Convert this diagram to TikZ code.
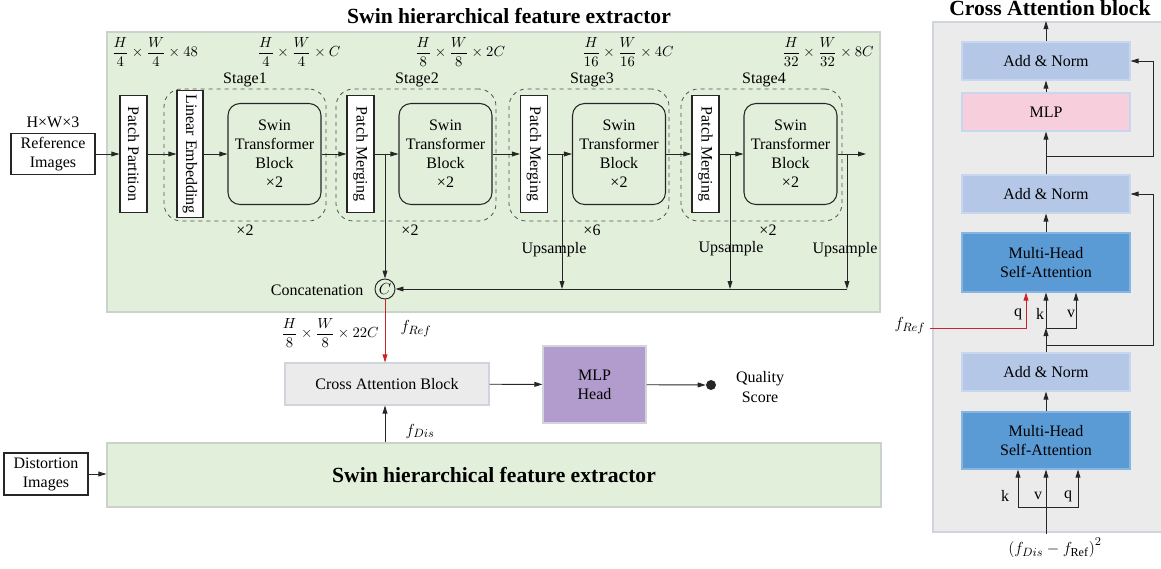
\documentclass[tikz,border=0pt]{standalone}
\usepackage{amsmath}
\usepackage{fontspec}
\setmainfont{Liberation Serif}
\usetikzlibrary{arrows.meta,fit,calc}
\definecolor{greenbg}{HTML}{E2EFDA}
\definecolor{greenbd}{HTML}{C9D3CC}
\definecolor{graybg}{HTML}{EBEBEB}
\definecolor{graybd}{HTML}{D0D5DD}
\definecolor{anfill}{HTML}{B4C7E7}
\definecolor{anbd}{HTML}{C8D6EE}
\definecolor{mlpfill}{HTML}{F7CFDC}
\definecolor{mhfill}{HTML}{5B9BD5}
\definecolor{mhbd}{HTML}{86B5E2}
\definecolor{headfill}{HTML}{B19CCD}
\definecolor{redline}{HTML}{D0202A}
\definecolor{linec}{HTML}{262626}
\newcommand{\dimlbl}[3]{$\dfrac{H}{#1}\times\dfrac{W}{#2}\times #3$}
\begin{document}
\begin{tikzpicture}[x=0.75pt,y=-0.75pt,
  font=\fontsize{12}{14.3}\selectfont,
  ln/.style={draw=linec, line width=0.7pt},
  arr/.style={ln, -{Triangle[length=6pt,width=3.6pt]}},
  redarr/.style={draw=redline, line width=0.7pt, -{Triangle[length=6pt,width=3.6pt]}},
  box/.style={draw=linec, line width=0.8pt, fill=white, inner sep=1pt, align=center},
  vbox/.style={box, rotate=-90, minimum height=20.25pt},
  swin/.style={draw=linec, line width=0.8pt, rounded corners=9pt, align=center, minimum width=69.75pt, minimum height=75.75pt, inner sep=1pt},
  stagebox/.style={draw=linec!80, dashed, line width=0.6pt, rounded corners=13pt, inner sep=0pt},
  dimtxt/.style={font=\fontsize{10.5}{12}\selectfont, inner sep=0pt},
  mathlbl/.style={font=\fontsize{13}{15}\selectfont},
  panel/.style={fill=greenbg, draw=greenbd, line width=0.8pt, inner sep=0pt},
  rbox/.style={align=center, minimum width=126pt, minimum height=28.5pt, line width=0.8pt, inner sep=1pt},
  bigbold/.style={font=\bfseries\fontsize{16.2}{18}\selectfont}
]
\useasboundingbox (0,0) rectangle (1161,568);

% ---------- top panel ----------
\node[panel, fit={(107,32)(880,312)}] (toppanel) {};
\node[bigbold] (title) at (509,16) {Swin hierarchical feature extractor};

\node[box, minimum width=63pt, minimum height=30.75pt] (ref) at (53,154) {Reference\\Images};
\node (refdim) at (53,122) {H×W×3};

\node[vbox, minimum width=87.75pt] (pp) at (133.5,154) {Patch Partition};

% stage boxes
\node[stagebox, fit={(164,89)(326,221)}] (s1) {};
\node[stagebox, fit={(336,89)(496,221)}] (s2) {};
\node[stagebox, fit={(509,89)(669,221)}] (s3) {};
\node[stagebox, fit={(681,89)(842,221)}] (s4) {};
\node (s1l) at (245,80) {Stage1};
\node (s2l) at (417,80) {Stage2};
\node (s3l) at (592,80) {Stage3};
\node (s4l) at (764,80) {Stage4};
\node (s1x) at (245,230) {×2};
\node (s2x) at (410,230) {×2};
\node (s3x) at (592,230) {×6};
\node (s4x) at (768,230) {×2};

\node[vbox, minimum width=95.25pt, minimum height=19.5pt] (le) at (190,154) {Linear Embedding};
\node[swin] (sb1) at (274.5,154) {Swin\\Transformer\\Block\\×2};
\node[vbox, minimum width=87.75pt] (pm2) at (360.5,154) {Patch Merging};
\node[swin] (sb2) at (445.5,154) {Swin\\Transformer\\Block\\×2};
\node[vbox, minimum width=87.75pt] (pm3) at (534,154) {Patch Merging};
\node[swin] (sb3) at (619,154) {Swin\\Transformer\\Block\\×2};
\node[vbox, minimum width=87.75pt] (pm4) at (705.5,154) {Patch Merging};
\node[swin] (sb4) at (790.5,154) {Swin\\Transformer\\Block\\×2};

% dims
\node[dimtxt] (d1) at (155,52) {\dimlbl{4}{4}{48}};
\node[dimtxt] (d2) at (299,52) {\dimlbl{4}{4}{C}};
\node[dimtxt] (d3) at (460,52) {\dimlbl{8}{8}{2C}};
\node[dimtxt] (d4) at (628,52) {\dimlbl{16}{16}{4C}};
\node[dimtxt] (d5) at (828,52) {\dimlbl{32}{32}{8C}};

% main chain
\coordinate (out4) at (866,154);
\draw[arr] (ref) -- (pp);
\draw[arr] (pp) -- (le);
\draw[arr] (le) -- (sb1);
\draw[arr] (sb1) -- (pm2);
\draw[arr] (pm2) -- (sb2);
\draw[arr] (sb2) -- (pm3);
\draw[arr] (pm3) -- (sb3);
\draw[arr] (sb3) -- (pm4);
\draw[arr] (pm4) -- (sb4);
\draw[arr] (sb4) -- (out4);

% concatenation
\node[draw=linec, line width=0.7pt, circle, minimum size=15pt, inner sep=0pt] (cat) at (385,289) {$C$};
\node[anchor=east] (catl) at (368,290) {Concatenation};
\coordinate (b2) at (385,154);
\coordinate (b3) at (562,154);
\coordinate (b4) at (730,154);
\coordinate (b5) at (847,154);
\coordinate (h3) at (562,289);
\coordinate (h4) at (730,289);
\coordinate (h5) at (847,289);
\draw[arr] (b2) -- (cat);
\draw[arr] (b3) -- (h3);
\draw[arr] (b4) -- (h4);
\draw[arr] (b5) -- (h5);
\draw[arr] (h5) -- (cat);
\node (up3) at (554,250) {Upsample};
\node (up4) at (731,249) {Upsample};
\node (up5) at (845,250) {Upsample};

% ---------- middle ----------
\node[box, draw=graybd, fill=graybg, minimum width=153pt, minimum height=31.5pt] (cab) at (387,384) {Cross Attention Block};
\node[box, draw=graybd, fill=headfill, minimum width=77.25pt, minimum height=57.75pt] (head) at (594.5,384.5) {MLP\\Head};
\node[circle, fill=linec, minimum size=7.5pt, inner sep=0pt] (dot) at (711,385) {};
\node[align=center] (qs) at (760,387) {Quality\\Score};
\draw[redarr] (cat) -- (cat |- cab.north);
\node[dimtxt] (d6) at (330,333) {\dimlbl{8}{8}{22C}};
\node[mathlbl] (fref) at (416,329) {$f_{Ref}$};
\draw[arr] (cab) -- (head);
\draw[arr] (head) -- (dot);

% ---------- bottom ----------
\node[panel, fit={(107,443)(881,507)}] (botpanel) {};
\node[bigbold] (bottitle) at (494,475) {Swin hierarchical feature extractor};
\node[box, minimum width=63pt, minimum height=31.5pt] (dis) at (46,474) {Distortion\\Images};
\draw[arr] (dis) -- (dis -| botpanel.west);
\draw[arr] (cat |- botpanel.north) -- (cat |- cab.south);
\node[mathlbl] (fdis) at (420,431) {$f_{Dis}$};

% ---------- right panel ----------
\node[fill=graybg, draw=graybd, line width=0.8pt, inner sep=0pt, fit={(933,22)(1175,532)}] (rpanel) {};
\node[bigbold, anchor=base, inner sep=0pt] (rtitle) at (1050,15.5) {Cross Attention block};
\node[rbox, fill=anfill, draw=anbd] (an1) at (1046,61) {Add \& Norm};
\node[rbox, fill=mlpfill, draw=anbd] (mlp) at (1046,112) {MLP};
\node[rbox, fill=anfill, draw=anbd] (an2) at (1046,194) {Add \& Norm};
\node[rbox, fill=mhfill, draw=mhbd, minimum height=44.25pt] (mh1) at (1046,262.5) {Multi-Head\\Self-Attention};
\node[rbox, fill=anfill, draw=anbd] (an3) at (1046,372) {Add \& Norm};
\node[rbox, fill=mhfill, draw=mhbd, minimum height=42.75pt] (mh2) at (1046,440.5) {Multi-Head\\Self-Attention};

\coordinate (caout) at (1046,21);
\draw[arr] (an1) -- (caout);
\draw[arr] (mlp) -- (an1);
\draw[arr] (an2) -- (mlp);
\coordinate (r1) at (1046,156);
\coordinate (rr1) at (1153,156);
\draw[arr] (r1) -- (rr1) |- (an1.east);
\draw[arr] (mh1) -- (an2);

\coordinate (j1) at (1046,328);
\coordinate (v1) at (1076,328);
\draw[arr] (an3) -- (j1);
\draw[arr] (j1) -- (mh1.south);
\draw[arr] (j1) -- (v1) -- (v1 |- mh1.south);
\node[mathlbl] (fref2) at (910,326) {$f_{Ref}$};
\coordinate (q1) at (1026,328);
\draw[redarr] (fref2.east |- q1) -- (q1) -- (q1 |- mh1.south);
\node (q1l) at (1018,314) {q};
\node (k1l) at (1040,314) {k};
\node (v1l) at (1071,314) {v};
\coordinate (r2) at (1046,345);
\coordinate (rr2) at (1153,345);
\draw[arr] (r2) -- (rr2) |- (an2.east);

\draw[arr] (mh2) -- (an3);
\node[mathlbl] (form) at (1055,548) {$\left(f_{Dis}-f_{\mathrm{Ref}}\right)^2$};
\coordinate (j2) at (1046,507);
\coordinate (k2) at (1018,507);
\coordinate (q2) at (1078,507);
\draw[arr] (form.north -| j2) -- (mh2.south);
\draw[arr] (j2) -- (k2) -- (k2 |- mh2.south);
\draw[arr] (j2) -- (q2) -- (q2 |- mh2.south);
\node (k2l) at (1005,496) {k};
\node (v2l) at (1038,496) {v};
\node (q2l) at (1068,496) {q};
\end{tikzpicture}
\end{document}
